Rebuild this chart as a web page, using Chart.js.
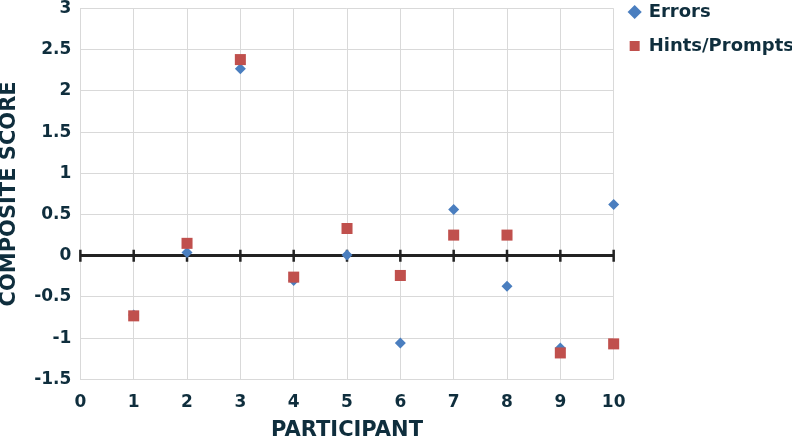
<!DOCTYPE html>
<html>
<head>
<meta charset="utf-8">
<script src="https://cdn.jsdelivr.net/npm/chart.js@4"></script>
<style>
  html, body { margin: 0; padding: 0; background: #fff; }
  #wrap { width: 792px; height: 438px; }
</style>
</head>
<body>
<div id="wrap"><canvas id="chart" width="792" height="438"></canvas></div>
<script>
// ===== DATA =====
const participants = [1, 2, 3, 4, 5, 6, 7, 8, 9, 10];
const errors = [-0.72, 0.04, 2.27, -0.30, 0.01, -1.06, 0.56, -0.37, -1.12, 0.62];
const hints = [-0.73, 0.15, 2.38, -0.26, 0.33, -0.24, 0.25, 0.25, -1.18, -1.07];
const xTicks = [0, 1, 2, 3, 4, 5, 6, 7, 8, 9, 10];
const yTicks = [-1.5, -1, -0.5, 0, 0.5, 1, 1.5, 2, 2.5, 3];

const INK = "#0f2e3d";
const FONT = "'DejaVu Sans', sans-serif";
const toPts = vals => participants.map((p, i) => ({ x: p, y: vals[i] }));

// ===== zero line tick marks =====
const zeroTicks = {
  id: "zeroTicks",
  beforeDatasetsDraw(chart) {
    const { ctx, scales: { x, y } } = chart;
    const y0 = y.getPixelForValue(0);
    ctx.save();
    ctx.strokeStyle = "#222";
    ctx.lineWidth = 2.5;
    ctx.beginPath();
    xTicks.forEach(v => {
      const px = x.getPixelForValue(v);
      ctx.moveTo(px, y0 - 6);
      ctx.lineTo(px, y0 + 6);
    });
    ctx.stroke();
    ctx.restore();
  }
};

new Chart(document.getElementById("chart"), {
  type: "scatter",
  data: {
    datasets: [
      { label: "Errors", data: toPts(errors), pointStyle: "rectRot", pointRadius: 5.5,
        backgroundColor: "#4a7ebf", borderColor: "#4a7ebf", borderWidth: 0, order: 1, clip: false },
      { label: "Hints/Prompts", data: toPts(hints), pointStyle: "rect", pointRadius: 7.8,
        backgroundColor: "#c0504d", borderColor: "#c0504d", borderWidth: 0, order: 0, clip: false }
    ]
  },
  options: {
    responsive: false,
    animation: false,
    layout: { padding: { top: -13, right: -12, left: -3, bottom: -5 } },
    plugins: {
      tooltip: { enabled: false },
      legend: {
        position: "right",
        align: "start",
        labels: {
          usePointStyle: true,
          boxWidth: 10,
          boxHeight: 10,
          padding: 16,
          color: INK,
          sort: (a, b) => a.datasetIndex - b.datasetIndex,
          font: { family: FONT, size: 18, weight: "bold" }
        }
      }
    },
    scales: {
      x: {
        type: "linear",
        min: 0, max: 10,
        afterBuildTicks: s => { s.ticks = xTicks.map(v => ({ value: v })); },
        grid: { color: "#d9d9d9", lineWidth: 1, drawTicks: true, tickLength: 10.5, tickColor: "rgba(0,0,0,0)" },
        border: { display: false },
        ticks: { color: INK, padding: 4, callback: v => String(v),
          font: { family: FONT, size: 17, weight: "bold", lineHeight: 1 } },
        title: { display: true, text: "PARTICIPANT", color: INK, padding: { top: 3, bottom: 0 },
          font: { family: FONT, size: 21, weight: "bold" } }
      },
      y: {
        min: -1.5, max: 3,
        afterBuildTicks: s => { s.ticks = yTicks.map(v => ({ value: v })); },
        grid: {
          color: c => c.tick && c.tick.value === 0 ? "#222" : "#d9d9d9",
          lineWidth: c => c.tick && c.tick.value === 0 ? 3 : 1,
          drawTicks: true, tickLength: 9, tickColor: "rgba(0,0,0,0)"
        },
        border: { display: false },
        ticks: { color: INK, padding: 0, callback: v => String(v),
          font: { family: FONT, size: 17, weight: "bold", lineHeight: 1 } },
        title: { display: true, text: "COMPOSITE SCORE", color: INK, padding: { top: 0, bottom: 12 },
          font: { family: FONT, size: 21, weight: "bold" } }
      }
    }
  },
  plugins: [zeroTicks]
});
</script>
</body>
</html>
